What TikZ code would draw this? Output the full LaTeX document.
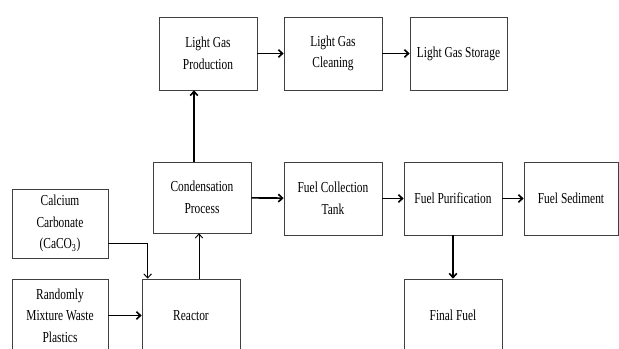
\documentclass[tikz,border=0pt]{standalone}
\usepackage{fontspec}
\setmainfont{Liberation Serif}[FakeStretch=0.75]
\usetikzlibrary{arrows.meta,calc,shadows}

\begin{document}
\begin{tikzpicture}[x=0.03cm, y=-0.03cm,
	box/.style={draw=black!75, line width=0.6pt, fill=white, align=center,
		minimum width=98*0.03cm, minimum height=73*0.03cm, inner sep=1pt,
		font=\fontsize{13}{18.5}\selectfont,
		drop shadow={shadow xshift=0.5pt, shadow yshift=-0.9pt, fill=black, opacity=1}},
	arr/.style={-{Straight Barb[length=3.5pt, width=6.5pt]}, line width=1.4pt},
	thin arr/.style={arr, line width=0.8pt}]
	\useasboundingbox (0,0) rectangle (619,349);
	\clip (0,0) rectangle (619,349);
	
	% upper row
	\node[box] (lgp) at (208,53.5) {Light Gas\\Production};
	\node[box] (lgc) at (333,53.5) {Light Gas\\Cleaning};
	\node[box, minimum width=97*0.03cm] (lgs) at (458.5,53.5) {Light Gas Storage};
	
	% middle row
	\node[box, minimum height=71*0.03cm] (cond) at (202,197.5) {Condensation\\Process};
	\node[box] (fct) at (333,198.5) {Fuel Collection\\Tank};
	\node[box] (fp) at (453,198.5) {Fuel Purification};
	\node[box, minimum width=94*0.03cm] (fs) at (571,198.5) {Fuel Sediment};
	\node[box, minimum width=96*0.03cm, minimum height=69*0.03cm] (caco) at (60,223.5) {Calcium\\Carbonate\\(CaCO\textsubscript{3})};
	
	% lower row
	\node[box, minimum width=96*0.03cm] (plast) at (60,315.5) {Randomly\\Mixture Waste\\Plastics};
	\node[box] (reac) at (191,315.5) {Reactor};
	\node[box] (ff) at (453,315.5) {Final Fuel};
	
	\foreach \a/\b in {lgp/lgc, lgc/lgs, cond/fct, fct/fp, fp/fs, plast/reac}
	\draw[arr] (\a) -- (\b);
	\draw[arr] (fp) -- (ff);
	
	\draw[thin arr] ($(caco.east)+(0,19.5)$) -| ($(reac.north west)+(6,0)$);
	\draw[thin arr] ($(reac.north)+(8,0)$) coordinate (r1) -- (r1 |- cond.south);
	\draw[arr] ($(cond.north)+(-8,0)$) coordinate (c1) -- (c1 |- lgp.south);
\end{tikzpicture}
\end{document}
